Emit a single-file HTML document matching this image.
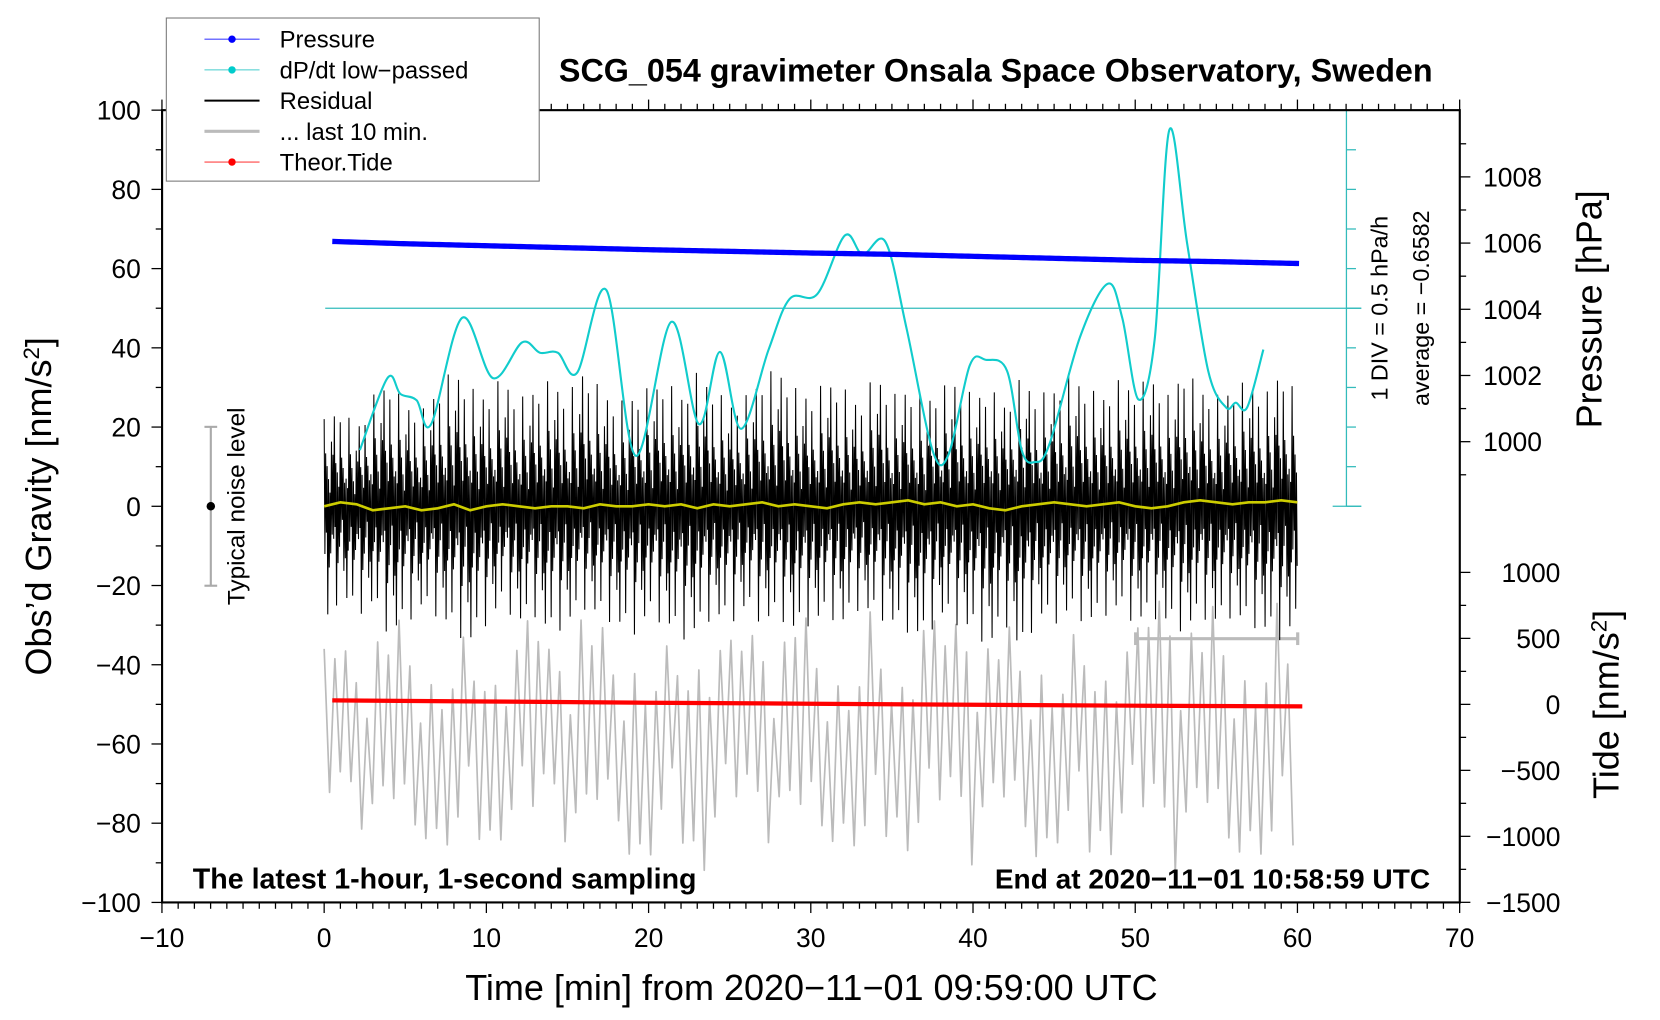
<!DOCTYPE html>
<html><head><meta charset="utf-8"><style>
html,body{margin:0;padding:0;background:#fff}
svg{display:block}
text{font-family:"Liberation Sans",Arial,sans-serif}
</style></head><body>
<svg id="chart" width="1660" height="1020" viewBox="0 0 1567 963" preserveAspectRatio="none" xmlns="http://www.w3.org/2000/svg">
<rect width="1567" height="963" fill="#fff"/>
<g id="marks"></g>
<g id="axes"></g>
<text x="940" y="77" font-size="30.5" font-weight="bold" text-anchor="middle">SCG_054 gravimeter Onsala Space Observatory, Sweden</text>
<text x="766" y="944" font-size="34" text-anchor="middle">Time [min] from 2020−11−01 09:59:00 UTC</text>
<text transform="translate(48,478) rotate(-90)" font-size="34" text-anchor="middle">Obs’d Gravity [nm/s<tspan baseline-shift="super" font-size="21">2</tspan>]</text>
<text transform="translate(1512,292) rotate(-90)" font-size="34" text-anchor="middle">Pressure [hPa]</text>
<text transform="translate(1528,665) rotate(-90)" font-size="34" text-anchor="middle">Tide [nm/s<tspan baseline-shift="super" font-size="21">2</tspan>]</text>
<text transform="translate(1310,291) rotate(-90)" font-size="22" text-anchor="middle">1 DIV = 0.5 hPa/h</text>
<text transform="translate(1349,291) rotate(-90)" font-size="22" text-anchor="middle">average = −0.6582</text>
<text transform="translate(231,478) rotate(-90)" font-size="23" text-anchor="middle">Typical noise level</text>
<text x="182" y="839" font-size="27" font-weight="bold">The latest 1-hour, 1-second sampling</text>
<text x="1350" y="839" font-size="26.5" font-weight="bold" text-anchor="end">End at 2020−11−01 10:58:59 UTC</text>
<g>
<rect x="157" y="17" width="352" height="154" fill="#fff" stroke="#777" stroke-width="1"/>
<line x1="193" y1="37" x2="245" y2="37" stroke="#44f" stroke-width="1"/><circle cx="219" cy="37" r="3.5" fill="#00f"/>
<text x="264" y="45" font-size="22.5">Pressure</text>
<line x1="193" y1="66" x2="245" y2="66" stroke="#4cc" stroke-width="1"/><circle cx="219" cy="66" r="3.5" fill="#0cc"/>
<text x="264" y="74" font-size="22.5">dP/dt low−passed</text>
<line x1="193" y1="95" x2="245" y2="95" stroke="#000" stroke-width="2"/>
<text x="264" y="103" font-size="22.5">Residual</text>
<line x1="193" y1="124" x2="245" y2="124" stroke="#bbb" stroke-width="3"/>
<text x="264" y="132" font-size="22.5">... last 10 min.</text>
<line x1="193" y1="153" x2="245" y2="153" stroke="#f44" stroke-width="1"/><circle cx="219" cy="153" r="3.5" fill="#f00"/>
<text x="264" y="161" font-size="22.5">Theor.Tide</text>
</g>
</svg>
<script>
// ---- data ----
const pressTimes = [0.5,5,10,15,20,25,30,35,40,45,50,55,60.3];
const pressVals = [1006.05,1005.98,1005.92,1005.86,1005.8,1005.75,1005.7,1005.66,1005.6,1005.54,1005.48,1005.44,1005.38];
const dpTimes = [2.2,3.9,4.7,5.7,6.6,8.5,10.4,12.2,13.3,14.4,15.6,17.4,19.2,21.4,23.1,24.4,25.7,27.4,28.7,30.4,32.1,33.2,34.6,35.9,37.5,38.5,39.8,40.8,42.1,43,43.8,44.7,46.6,48.3,49.2,50.2,51.2,52.1,53.2,54.5,55.6,56.2,56.9,57.9];
const dpVals = [-2.45,-1.54,-1.74,-1.82,-2.12,-0.78,-1.54,-1.09,-1.22,-1.22,-1.47,-0.43,-2.52,-0.83,-2.12,-1.21,-2.18,-1.18,-0.54,-0.48,0.26,0.02,0.18,-0.91,-2.45,-2.5,-1.38,-1.31,-1.45,-2.45,-2.6,-2.38,-1.02,-0.35,-0.78,-1.81,-1.05,1.59,0.16,-1.45,-1.91,-1.85,-1.91,-1.18];
const resHi = [22,25,20,28,32,26,24,30,35,30,28,33,27,30,32,28,35,30,26,28,30,32,28,34,30,26,28,33,35,30,28,32,30,26,34,28,30,27,30,32,28,30,26,33,28,30,34,30,28,32,30,33,28,35,30,28,30,32,28,35,28];
const resLo = [-35,-22,-28,-25,-33,-30,-26,-28,-32,-35,-30,-25,-30,-28,-33,-30,-26,-28,-30,-33,-28,-30,-34,-32,-28,-30,-26,-30,-28,-32,-30,-28,-30,-26,-28,-30,-32,-34,-28,-30,-32,-36,-30,-38,-28,-30,-27,-30,-28,-26,-30,-28,-30,-32,-28,-30,-28,-30,-32,-34,-30];
const yellowVals = [0,1,0.5,-1,-0.5,0,-1,-0.5,0.5,-1,0,0.5,0,-0.5,0,0,-0.5,0.5,0,0,0.5,0,0.5,-0.5,0.5,0,0.5,1,0,0.5,0,-0.5,0.5,1,0.5,1,1.5,0.5,1,0,0.5,-0.5,-1,0,0.5,1,0.5,0,0.5,1,0,-0.5,0,1,1.5,1,0.5,1,1,1.5,1];
const greyCenter = -60;
const greyAmp = [24,26,22,28,30,32,26,28,31,24,34,26,30,32,24,28,36,30,26,32,34,24,30,38,32,26,28,30,24,36,30,28,26,32,34,26,30,36,28,32,34,26,30,28,32,30,26,34,32,30,28,36,40,32,30,36,32,28,34,36,30];
const tideTimes = [0.5,10,20,30,40,50,60.3];
const tideVals = [30,22,12,5,-3,-10,-15];
const xTicks = [-10,0,10,20,30,40,50,60,70];
const yTicks = [100,80,60,40,20,0,-20,-40,-60,-80,-100];
const pTicks = [1008,1006,1004,1002,1000];
const tTicks = [1000,500,0,-500,-1000,-1500];

// ---- scales ----
const X = t => 306 + t*15.3125;
const Yg = g => 478 - g*3.74;
const Yp = p => 167 + (1008-p)*31.25;
const Yt = v => 665 - v*0.1246;
const Yc = v => 291 - (v+0.6582)*74.8;
const NS='http://www.w3.org/2000/svg';
const marks=document.getElementById('marks'), axes=document.getElementById('axes');
function mk(tag,attrs,parent){const e=document.createElementNS(NS,tag);for(const k in attrs)e.setAttribute(k,attrs[k]);(parent||marks).appendChild(e);return e;}
function lerp(arrT,arrV,t){for(let i=0;i<arrT.length-1;i++){if(t<=arrT[i+1]){const f=(t-arrT[i])/(arrT[i+1]-arrT[i]);return arrV[i]+f*(arrV[i+1]-arrV[i]);}}return arrV[arrV.length-1];}
const mins=[...Array(61).keys()];

let e;
e=mk('line',{x1:307,y1:291,x2:1285,y2:291,stroke:'#3bb',"stroke-width":1.2});


e=mk('line',{x1:1271,y1:104,x2:1271,y2:478,stroke:'#3bb',"stroke-width":1.2});


for(let i=0;i<=10;i++){const y=104+i*37.4;mk('line',{x1:1271,y1:y,x2:(i==10||i==5)?1285:1280,y2:y,stroke:'#3bb',"stroke-width":1.2});}
mk('line',{x1:1258,y1:478,x2:1285,y2:478,stroke:'#3bb',"stroke-width":1.2});

// grey last 10 min
const gMult=[1,0.55,0.85,0.3,0.95,0.45,0.7,1,0.25,0.6,0.9,0.4,0.75,0.5,1,0.35,0.65,0.8,0.2];
let gp=[];let k=0;
for(let t=0;t<=60;t+=0.33){const a=lerp(mins,greyAmp,t);const m=gMult[k%19];gp.push(X(t).toFixed(1)+','+Yg(greyCenter+(k%2?-a*0.9:a)*m).toFixed(1));k++;}
e=mk('polyline',{points:gp.join(' '),fill:'none',stroke:'#bbb',"stroke-width":1.6,"stroke-linejoin":"round"});


mk('line',{x1:1072,y1:603,x2:1225,y2:603,stroke:'#bbb',"stroke-width":3});
mk('line',{x1:1072,y1:597,x2:1072,y2:609,stroke:'#bbb',"stroke-width":3});
mk('line',{x1:1225,y1:597,x2:1225,y2:609,stroke:'#bbb',"stroke-width":3});

// residual
let rp=[];k=0;
const mult=[1,0.35,0.6,0.2,0.45,0.85,0.3,0.5,0.15,0.4,0.7,0.25,0.55,0.3,0.95,0.2,0.45];
for(let t=0;t<=60;t+=0.045){const hi=lerp(mins,resHi,t),lo=lerp(mins,resLo,t);const m=mult[k%17];rp.push(X(t).toFixed(1)+','+Yg(k%2?lo*m:hi*m).toFixed(1));k++;}
e=mk('polyline',{points:rp.join(' '),fill:'none',stroke:'#000',"stroke-width":1});



e=mk('polyline',{points:mins.map((m,i)=>X(m)+','+Yg(yellowVals[i])).join(' '),fill:'none',stroke:'#cc0',"stroke-width":2.5});



function smooth(pts){let d='M'+pts[0][0]+','+pts[0][1];for(let i=0;i<pts.length-1;i++){const p0=pts[i-1]||pts[i],p1=pts[i],p2=pts[i+1],p3=pts[i+2]||p2;const c1=[p1[0]+(p2[0]-p0[0])/6,p1[1]+(p2[1]-p0[1])/6],c2=[p2[0]-(p3[0]-p1[0])/6,p2[1]-(p3[1]-p1[1])/6];d+=' C'+c1.join(',')+' '+c2.join(',')+' '+p2.join(',');}return d;}
e=mk('path',{d:smooth(dpTimes.map((t,i)=>[X(t),Yc(dpVals[i])])),fill:'none',stroke:'#1cc',"stroke-width":2});



const pp=[];for(let t=0.5;t<=60.3;t+=0.2)pp.push([X(t),Yp(lerp(pressTimes,pressVals,t))]);
e=mk('polyline',{points:pp.map(p=>p.join(',')).join(' '),fill:'none',stroke:'#00f',"stroke-width":5});



e=mk('polyline',{points:tideTimes.map((t,i)=>X(t)+','+Yt(tideVals[i])).join(' '),fill:'none',stroke:'#f00',"stroke-width":4});



mk('line',{x1:199,y1:403,x2:199,y2:553,stroke:'#aaa',"stroke-width":2});
mk('line',{x1:193,y1:403,x2:205,y2:403,stroke:'#aaa',"stroke-width":2});
mk('line',{x1:193,y1:553,x2:205,y2:553,stroke:'#aaa',"stroke-width":2});
mk('circle',{cx:199,cy:478,r:4,fill:'#000'});

// ---- axes ----
const L=153,R=1378,T=104,B=852;
e=mk('rect',{x:L,y:T,width:R-L,height:B-T,fill:'none',stroke:'#000',"stroke-width":2},axes);


for(let t=-10;t<=70;t++){const x=X(t),maj=t%10==0;mk('line',{x1:x,y1:B,x2:x,y2:B+(maj?10:6),stroke:'#000',"stroke-width":1.2},axes);mk('line',{x1:x,y1:T,x2:x,y2:T-(maj?10:6),stroke:'#000',"stroke-width":1.2},axes);}
xTicks.forEach(t=>{const tx=mk('text',{x:X(t),y:894,"font-size":25,"text-anchor":"middle"},axes);tx.textContent=String(t).replace('-','−');

});
for(let g=-100;g<=100;g+=10){mk('line',{x1:L,y1:Yg(g),x2:L-(g%20==0?10:6),y2:Yg(g),stroke:'#000',"stroke-width":1.2},axes);}
yTicks.forEach(g=>{const tx=mk('text',{x:133,y:Yg(g)+9,"font-size":25,"text-anchor":"end"},axes);tx.textContent=String(g).replace('-','−');

});
for(let p=999;p<=1009;p++){mk('line',{x1:R,y1:Yp(p),x2:R+(p%2==0?10:6),y2:Yp(p),stroke:'#000',"stroke-width":1.2},axes);}
pTicks.forEach(p=>{const tx=mk('text',{x:1400,y:Yp(p)+9,"font-size":25},axes);tx.textContent=p;

});
for(let v=-1500;v<=1000;v+=250){mk('line',{x1:R,y1:Yt(v),x2:R+(v%500==0?10:6),y2:Yt(v),stroke:'#000',"stroke-width":1.2},axes);}
tTicks.forEach(v=>{const tx=mk('text',{x:1473,y:Yt(v)+9,"font-size":25,"text-anchor":"end"},axes);tx.textContent=String(v).replace('-','−');

});
</script>
</body></html>
